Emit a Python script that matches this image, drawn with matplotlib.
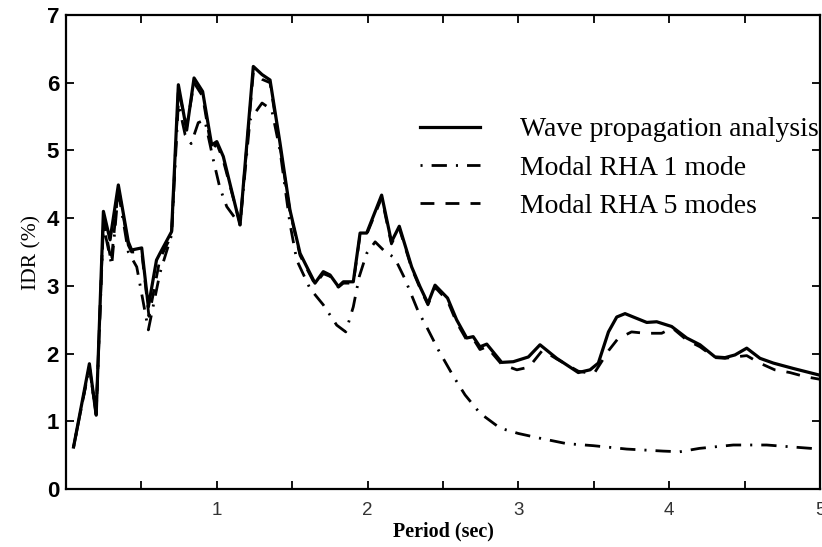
import numpy as np
import matplotlib
matplotlib.use("Agg")
import matplotlib.pyplot as plt
from matplotlib.ticker import MultipleLocator

# wave propagation analysis (solid)
x_wave = [0.05, 0.155, 0.20, 0.248, 0.292, 0.347, 0.413, 0.435, 0.502, 0.546, 0.60, 0.623,
          0.70, 0.745, 0.80, 0.849, 0.906, 0.966, 1.0, 1.043, 1.154, 1.242, 1.30, 1.353,
          1.419, 1.485, 1.552, 1.651, 1.706, 1.751, 1.806, 1.839, 1.905, 1.95, 1.994,
          2.093, 2.158, 2.21, 2.292, 2.347, 2.40, 2.447, 2.53, 2.59, 2.657, 2.70, 2.745,
          2.79, 2.889, 2.966, 3.066, 3.143, 3.254, 3.397, 3.475, 3.53, 3.597, 3.652,
          3.707, 3.762, 3.851, 3.917, 4.016, 4.116, 4.204, 4.304, 4.37, 4.436, 4.514,
          4.602, 4.69, 4.823, 5.0]
y_wave = [0.62, 1.85, 1.09, 4.10, 3.68, 4.49, 3.65, 3.53, 3.56, 2.69, 3.38, 3.48,
          3.80, 5.97, 5.30, 6.07, 5.87, 5.08, 5.13, 4.91, 3.90, 6.24, 6.12, 6.04,
          5.11, 4.12, 3.48, 3.04, 3.21, 3.16, 2.99, 3.06, 3.06, 3.78, 3.78,
          4.34, 3.65, 3.88, 3.28, 2.99, 2.74, 3.01, 2.82, 2.50, 2.23, 2.25, 2.10,
          2.14, 1.87, 1.88, 1.95, 2.13, 1.93, 1.72, 1.76, 1.86, 2.32, 2.54,
          2.59, 2.54, 2.46, 2.47, 2.40, 2.23, 2.13, 1.95, 1.94, 1.98, 2.08,
          1.93, 1.86, 1.78, 1.68]

# modal RHA 1 mode (dash-dot)
x_m1 = [0.05, 0.155, 0.20, 0.248, 0.303, 0.347, 0.413, 0.469, 0.546, 0.623, 0.70, 0.745,
        0.79, 0.83, 0.877, 0.92, 0.977, 1.02, 1.066, 1.154, 1.22, 1.30, 1.364, 1.419,
        1.485, 1.53, 1.618, 1.706, 1.795, 1.855, 1.905, 1.945, 1.994, 2.05, 2.104,
        2.18, 2.248, 2.336, 2.39, 2.47, 2.57, 2.646, 2.745, 2.878, 3.0, 3.143, 3.32,
        3.497, 3.718, 3.96, 4.07, 4.20, 4.425, 4.646, 5.0]
y_m1 = [0.62, 1.80, 1.10, 3.90, 3.30, 4.40, 3.50, 3.28, 2.35, 3.19, 3.75, 5.70,
        5.23, 5.10, 5.41, 5.45, 4.86, 4.45, 4.17, 3.90, 5.45, 5.70, 5.60, 5.00,
        3.92, 3.38, 2.96, 2.72, 2.42, 2.32, 2.69, 3.14, 3.48, 3.65, 3.53,
        3.41, 3.10, 2.62, 2.40, 2.05, 1.66, 1.39, 1.12, 0.90, 0.82, 0.75, 0.67,
        0.64, 0.59, 0.56, 0.55, 0.60, 0.65, 0.65, 0.59]

# modal RHA 5 modes (dashed)
x_m5 = [0.05, 0.155, 0.20, 0.248, 0.30, 0.347, 0.413, 0.435, 0.502, 0.55, 0.623, 0.70,
        0.745, 0.80, 0.849, 0.906, 0.966, 1.0, 1.043, 1.154, 1.242, 1.30, 1.353, 1.419,
        1.485, 1.552, 1.651, 1.706, 1.751, 1.806, 1.839, 1.905, 1.95, 1.994, 2.093,
        2.158, 2.21, 2.292, 2.347, 2.40, 2.447, 2.53, 2.59, 2.657, 2.70, 2.745, 2.79,
        2.889, 2.99, 3.07, 3.16, 3.254, 3.397, 3.50, 3.60, 3.66, 3.75, 3.84, 3.95,
        4.02, 4.116, 4.204, 4.304, 4.37, 4.436, 4.514, 4.60, 4.70, 4.80, 4.90, 5.0]
y_m5 = [0.62, 1.80, 1.10, 4.00, 3.35, 4.45, 3.60, 3.50, 3.50, 2.55, 3.40, 3.75,
        5.90, 5.35, 6.00, 5.80, 5.00, 5.10, 4.85, 3.92, 6.15, 6.05, 6.00, 5.05,
        4.10, 3.45, 3.02, 3.18, 3.14, 2.98, 3.04, 3.04, 3.75, 3.76, 4.30,
        3.62, 3.85, 3.26, 2.97, 2.72, 2.98, 2.78, 2.46, 2.20, 2.22, 2.06, 2.10,
        1.84, 1.76, 1.80, 2.05, 1.92, 1.74, 1.70, 2.05, 2.22, 2.32, 2.30, 2.30,
        2.38, 2.20, 2.10, 1.94, 1.93, 1.95, 1.97, 1.86, 1.76, 1.72, 1.66, 1.62]

labels = ["Wave propagation analysis", "Modal RHA 1 mode", "Modal RHA 5 modes"]

plt.rcParams["lines.scale_dashes"] = False

fig = plt.figure(figsize=(8.22, 5.47), dpi=100)
ax = fig.add_axes([0.0803, 0.106, 0.9173, 0.8666])

ax.plot(x_wave, y_wave, color="black", linewidth=2.3, label=labels[0])
l1, = ax.plot(x_m1, y_m1, color="black", linewidth=2.0, label=labels[1])
l1.set_dashes([1.5, 6.5, 11, 6.5])
l5, = ax.plot(x_m5, y_m5, color="black", linewidth=2.0, label=labels[2])
l5.set_dashes([10, 8])

ax.set_xlim(0, 5)
ax.set_ylim(0, 7)
ax.xaxis.set_major_locator(MultipleLocator(1))
ax.xaxis.set_minor_locator(MultipleLocator(0.5))
ax.yaxis.set_major_locator(MultipleLocator(1))
ax.tick_params(which="both", direction="in", top=True, right=True, length=6, width=1.3)
ax.set_xticks([1, 2, 3, 4, 5])
for s in ax.spines.values():
    s.set_linewidth(1.6)

for t in ax.get_xticklabels():
    t.set_fontfamily("Liberation Sans")
    t.set_fontsize(13.5)
    t.set_color("#333333")
for t in ax.get_yticklabels():
    t.set_fontfamily("Liberation Sans")
    t.set_fontsize(16)
    t.set_fontweight("bold")
ax.tick_params(axis="y", pad=5)
ax.tick_params(axis="x", pad=9)

ax.set_xlabel("Period (sec)", fontfamily="Liberation Serif", fontweight="bold",
              fontsize=14.5, labelpad=2)
ax.set_ylabel("IDR (%)", fontfamily="Liberation Serif", fontsize=15.5, labelpad=4)

ax.legend(loc="upper left", bbox_to_anchor=(0.4695, 0.785), frameon=False,
          prop={"family": "Liberation Serif", "size": 20}, handlelength=2.15,
          handletextpad=1.45, labelspacing=0.46, borderpad=0, borderaxespad=0)

fig.savefig("out.png", dpi=100)
